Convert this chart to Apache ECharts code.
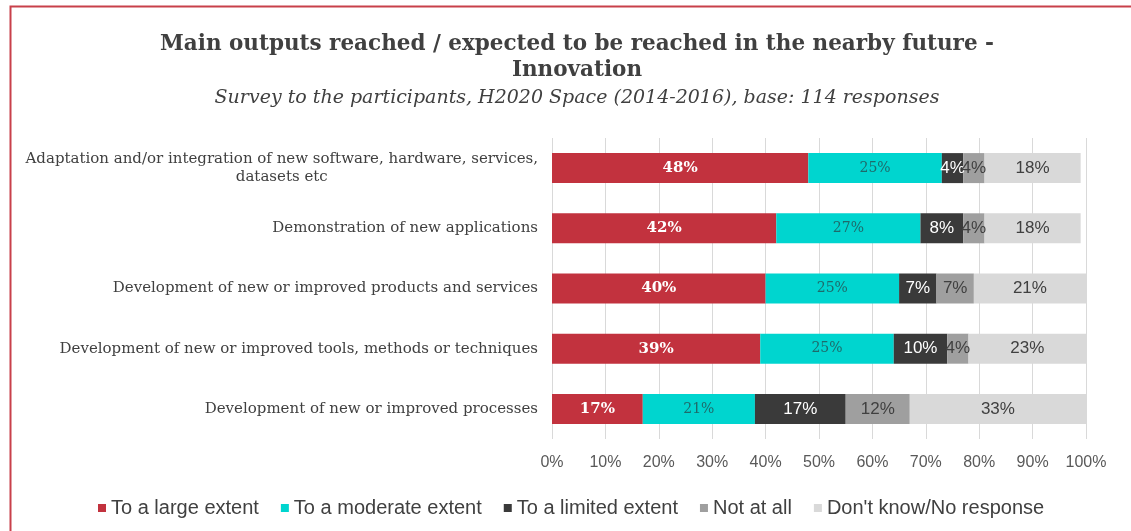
<!DOCTYPE html>
<html>
<head>
<meta charset="utf-8">
<script src="https://cdn.jsdelivr.net/npm/echarts@6/dist/echarts.min.js"></script>
<style>
  html, body { margin: 0; padding: 0; background: #ffffff; }
  #chart { width: 1131px; height: 531px; }
</style>
</head>
<body>
<div id="chart"></div>
<script>
// Survey outputs, share of responses per answer (percent)
const categories = [
  'Adaptation and/or integration of new software, hardware, services,\ndatasets etc',
  'Demonstration of new applications',
  'Development of new or improved products and services',
  'Development of new or improved tools, methods or techniques',
  'Development of new or improved processes'
];
const seriesNames = ['To a large extent', 'To a moderate extent', 'To a limited extent', 'Not at all', "Don't know/No response"];
const largeExtent    = [48, 42, 40, 39, 17];
const moderateExtent = [25, 27, 25, 25, 21];
const limitedExtent  = [4, 8, 7, 10, 17];
const notAtAll       = [4, 4, 7, 4, 12];
const dontKnow       = [18, 18, 21, 23, 33];
const xTicks = [0, 10, 20, 30, 40, 50, 60, 70, 80, 90, 100];

const values = [largeExtent, moderateExtent, limitedExtent, notAtAll, dontKnow];
const colors = ['#C2323E', '#00D5CF', '#3A3A3A', '#9F9F9F', '#D9D9D9'];
const serifFont = '"DejaVu Serif", "Liberation Serif", serif';
const sansFont = '"Liberation Sans", Arial, sans-serif';

// Per-segment label styling
const labelStyles = [
  { color: '#ffffff', fontFamily: serifFont, fontWeight: 'bold', fontSize: 15 },
  { color: '#1E6A6A', fontFamily: serifFont, fontWeight: 'normal', fontSize: 14 },
  { color: '#ffffff', fontFamily: sansFont, fontWeight: 'normal', fontSize: 17 },
  { color: '#404040', fontFamily: sansFont, fontWeight: 'normal', fontSize: 17 },
  { color: '#404040', fontFamily: sansFont, fontWeight: 'normal', fontSize: 17 }
];

const series = seriesNames.map((name, i) => ({
  name: name,
  type: 'bar',
  stack: 'total',
  barWidth: 30,
  data: values[i],
  itemStyle: { color: colors[i] },
  label: Object.assign({
    show: true,
    position: 'inside',
    formatter: p => p.value + '%'
  }, labelStyles[i])
}));

const chart = echarts.init(document.getElementById('chart'));
chart.setOption({
  backgroundColor: '#ffffff',
  animation: false,
  title: {
    text: 'Main outputs reached / expected to be reached in the nearby future -\nInnovation',
    subtext: 'Survey to the participants, H2020 Space (2014-2016), base: 114 responses',
    left: 572,
    top: 26,
    textAlign: 'center',
    itemGap: 4,
    textStyle: {
      fontFamily: serifFont,
      fontWeight: 'bold',
      fontSize: 21.5,
      lineHeight: 26,
      color: '#404040'
    },
    subtextStyle: {
      fontFamily: serifFont,
      fontStyle: 'italic',
      fontSize: 19,
      lineHeight: 22,
      color: '#404040'
    }
  },
  legend: {
    data: seriesNames,
    left: 93,
    top: 493,
    itemWidth: 8,
    itemHeight: 8,
    itemGap: 22,
    icon: 'rect',
    textStyle: { fontFamily: sansFont, fontSize: 20, color: '#404040' }
  },
  grid: { left: 552, right: 45, top: 138, height: 301, containLabel: false },
  xAxis: {
    type: 'value',
    min: 0,
    max: 100,
    interval: 10,
    axisLine: { show: false },
    axisTick: { show: false },
    splitLine: { show: true, lineStyle: { color: '#D9D9D9', width: 1 } },
    axisLabel: {
      margin: 16,
      fontFamily: sansFont,
      fontSize: 16,
      color: '#595959',
      formatter: v => (xTicks.indexOf(v) >= 0 ? v + '%' : '')
    }
  },
  yAxis: {
    type: 'category',
    data: categories,
    inverse: true,
    axisLine: { show: false },
    axisTick: { show: false },
    axisLabel: {
      margin: 14,
      formatter: v => v.split('\n').map(s => '{c|' + s + '}').join('\n'),
      rich: {
        c: {
          align: 'center',
          fontFamily: serifFont,
          fontSize: 15,
          lineHeight: 18,
          color: '#404040'
        }
      }
    }
  },
  series: series,
  graphic: [{
    type: 'polyline',
    shape: { points: [[10.5, 531], [10.5, 6.5], [1131, 6.5]] },
    style: { stroke: '#C8404A', lineWidth: 2, fill: null },
    silent: true
  }]
});
</script>
</body>
</html>
